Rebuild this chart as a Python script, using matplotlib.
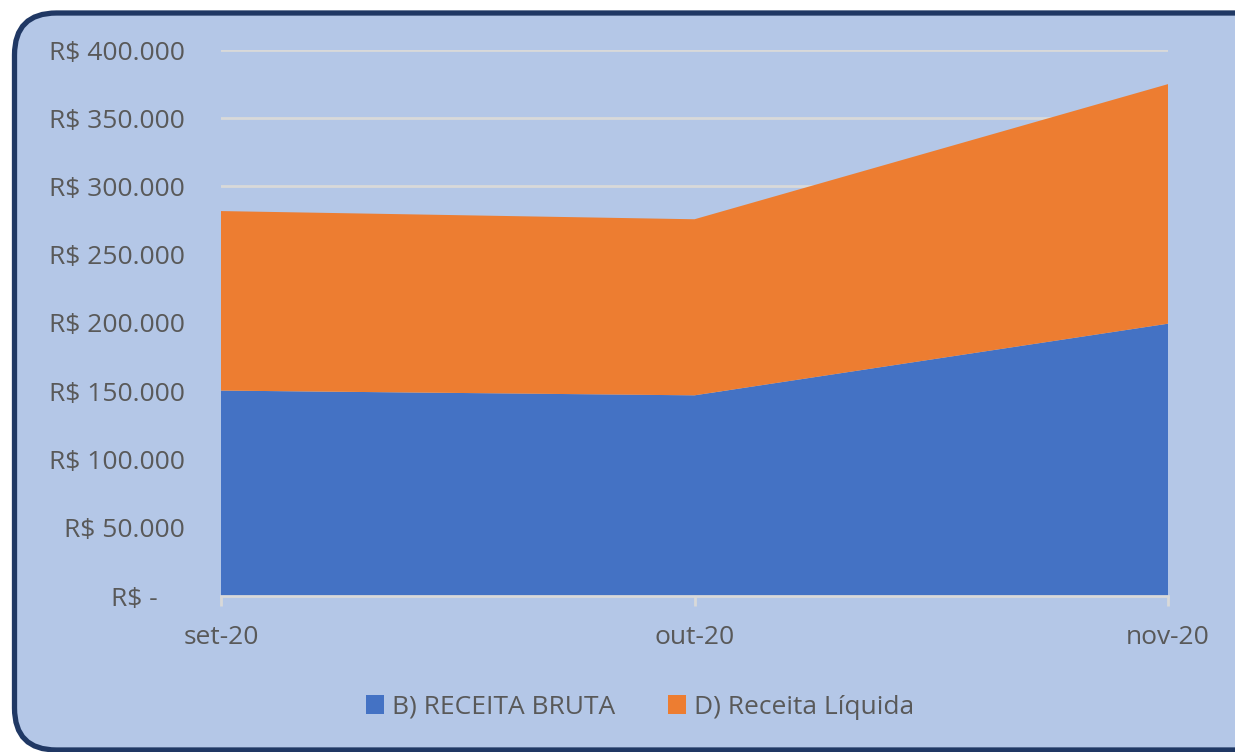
import matplotlib.pyplot as plt
from matplotlib.patches import FancyBboxPatch
from matplotlib.ticker import FuncFormatter
import numpy as np

# data
meses = ['set-20', 'out-20', 'nov-20']
receita_bruta = [150500, 147000, 199500]
receita_liquida = [131500, 129000, 175500]
yticks = [0, 50000, 100000, 150000, 200000, 250000, 300000, 350000, 400000]

plt.rcParams['font.family'] = ['Open Sans', 'DejaVu Sans']

fig = plt.figure(figsize=(12.35, 7.52), dpi=100)
fig.patch.set_facecolor('white')

# rounded chart area with dark border (right side runs off the image)
box = FancyBboxPatch((14.5, 2), 1275, 737,
                     boxstyle='round,pad=0,rounding_size=42',
                     transform=None,
                     facecolor='#B4C7E7', edgecolor='#203864', linewidth=3.8,
                     clip_on=False, zorder=-5)
fig.patches.append(box)

ax = fig.add_axes([221/1235, 1 - 596/752, (1168-221)/1235, (596-50)/752])
ax.set_facecolor('none')

x = np.arange(len(meses))
ax.stackplot(x, receita_bruta, receita_liquida,
             colors=['#4472C4', '#ED7D31'], labels=['B) RECEITA BRUTA', 'D) Receita Líquida'],
             zorder=3)

ax.set_xlim(0, 2)
ax.set_ylim(0, 400000)
ax.set_yticks(yticks)

def fmt(v, pos):
    if v == 0:
        return 'R$ -    '
    return 'R$ ' + f'{int(v):,}'.replace(',', '.')
ax.yaxis.set_major_formatter(FuncFormatter(fmt))

ax.grid(axis='y', color='#D9D9D9', linewidth=2, zorder=1)
ax.set_axisbelow(True)
for s in ['top', 'right', 'left']:
    ax.spines[s].set_visible(False)
ax.spines['bottom'].set_color('#D9D9D9')
ax.spines['bottom'].set_linewidth(2)
ax.spines['bottom'].set_zorder(4)

ax.set_xticks(x)
ax.set_xticklabels(meses)
ax.tick_params(axis='x', length=7, width=2, color='#D9D9D9', pad=14,
               labelsize=19, labelcolor='#595959')
ax.tick_params(axis='y', length=0, pad=26, labelsize=19, labelcolor='#595959')

leg = fig.legend(loc='center', bbox_to_anchor=(640/1235, 1 - 707/752), ncol=2,
                 frameon=False, fontsize=19, handlelength=0.7, handleheight=0.7,
                 handletextpad=0.3, columnspacing=2.0)
for t in leg.get_texts():
    t.set_color('#595959')

fig.savefig('out.png', dpi=100, facecolor=fig.get_facecolor())
